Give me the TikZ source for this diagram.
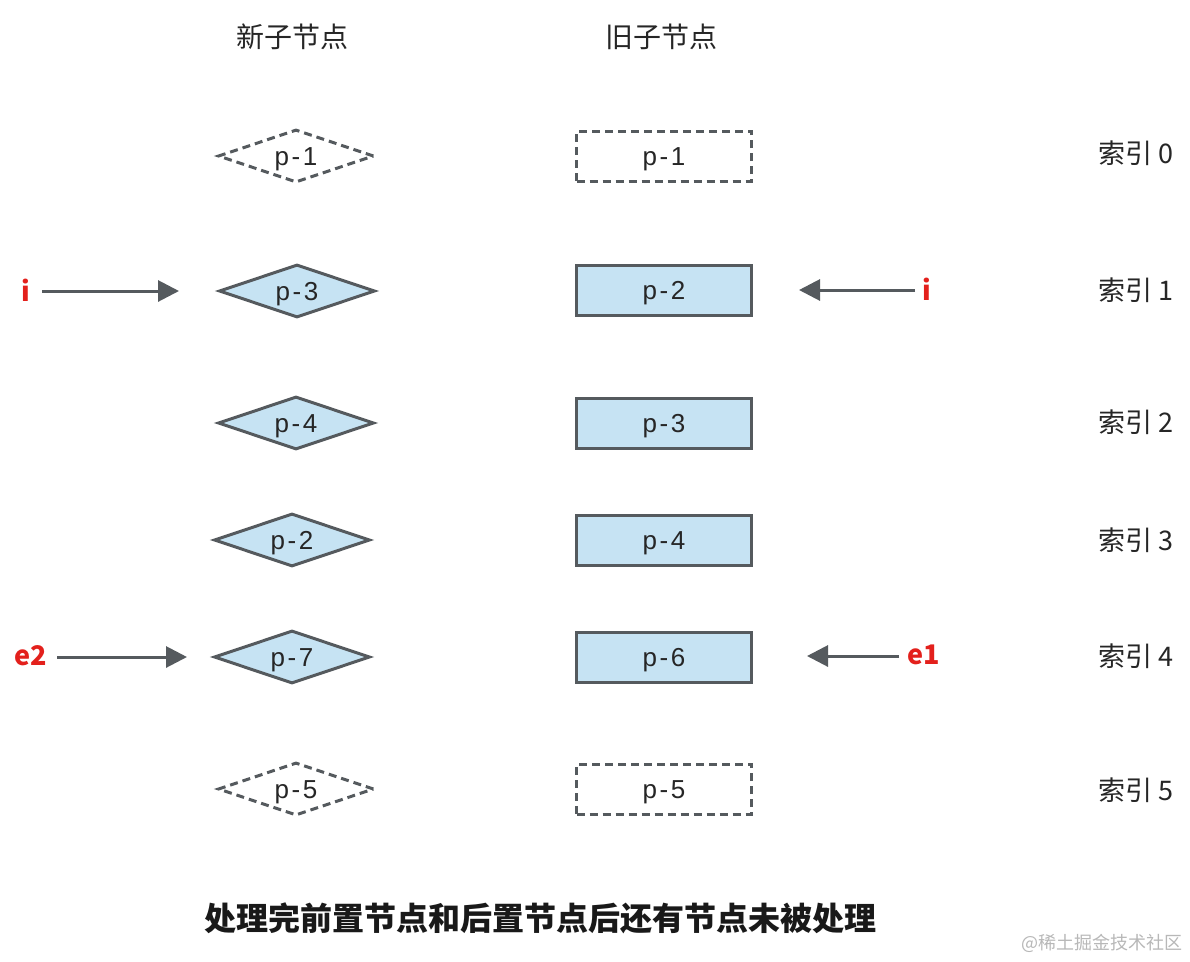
\documentclass[tikz,border=0pt]{standalone}
\usepackage{fontspec}
\setmainfont{Noto Sans CJK SC}
\newfontfamily\latfont{Liberation Sans}[LetterSpace=10]
\usetikzlibrary{shapes.geometric,arrows.meta}
\definecolor{edge}{HTML}{555A5E}
\definecolor{fillblue}{HTML}{C6E3F3}
\definecolor{redlab}{HTML}{E3201C}
\definecolor{wm}{HTML}{B8B8B8}
\tikzset{
  newnode/.style={diamond, shape aspect=3, draw=edge, line width=3pt, fill=fillblue, minimum width=156pt, minimum height=53pt, inner sep=0pt, text height=18pt, text depth=0pt, text=black!85, font=\latfont\fontsize{26}{30}\selectfont},
  oldnode/.style={rectangle, draw=edge, line width=3pt, fill=fillblue, minimum width=175pt, minimum height=50pt, inner sep=0pt, text height=18pt, text depth=0pt, text=black!85, font=\latfont\fontsize{26}{30}\selectfont},
  ghost/.style={fill=white, dash pattern=on 8pt off 5pt},
  header/.style={text=black!85, font=\fontsize{28}{32}\selectfont},
  idx/.style={text=black!85, font=\fontsize{27}{32}\selectfont},
  ptr/.style={text=redlab, font=\fontsize{27}{32}\selectfont\bfseries},
  ptrarrow/.style={draw=edge, line width=3pt, -{Triangle[length=21pt,width=21pt]}},
}
\begin{document}
\begin{tikzpicture}[x=1pt,y=-1pt]
\useasboundingbox[fill=white] (0,0) rectangle (1190,961);
% headers
\node[header] (hnew) at (292,37) {新子节点};
\node[header] (hold) at (661,37) {旧子节点};
% new children
\node[newnode,ghost] (n0) at (296,156) {p-1};
\node[newnode] (n1) at (297,291) {p-3};
\node[newnode] (n2) at (296,423) {p-4};
\node[newnode] (n3) at (292,540) {p-2};
\node[newnode] (n4) at (292,657) {p-7};
\node[newnode,ghost] (n5) at (296,789) {p-5};
% old children
\node[oldnode,ghost] (o0) at (664,156) {p-1};
\node[oldnode] (o1) at (664,290) {p-2};
\node[oldnode] (o2) at (664,423) {p-3};
\node[oldnode] (o3) at (664,540) {p-4};
\node[oldnode] (o4) at (664,657) {p-6};
\node[oldnode,ghost] (o5) at (664,789) {p-5};
% index labels
\node[idx] (i0) at (1136,153) {索引 0};
\node[idx] (i1) at (1136,290) {索引 1};
\node[idx] (i2) at (1136,422) {索引 2};
\node[idx] (i3) at (1136,540) {索引 3};
\node[idx] (i4) at (1136,656) {索引 4};
\node[idx] (i5) at (1136,790) {索引 5};
% pointers
\node[ptr] (pi) at (26,290) {i};
\coordinate (pit) at (179,291);
\draw[ptrarrow] (42,291) -- (pit);
\node[ptr] (pe2) at (31,656) {e2};
\coordinate (pe2t) at (187,657);
\draw[ptrarrow] (57,657) -- (pe2t);
\node[ptr] (qi) at (927,289) {i};
\coordinate (qit) at (799,290);
\draw[ptrarrow] (915,290) -- (qit);
\node[ptr] (qe1) at (924,655) {e1};
\coordinate (qe1t) at (807,656);
\draw[ptrarrow] (899,656) -- (qe1t);
% caption
\node[text=black!90, font=\fontsize{32}{38}\selectfont\bfseries] (cap) at (540,918) {处理完前置节点和后置节点后还有节点未被处理};
\node[text=wm, font=\fontsize{18}{22}\selectfont] (wmark) at (1102,943) {@稀土掘金技术社区};
\end{tikzpicture}
\end{document}
